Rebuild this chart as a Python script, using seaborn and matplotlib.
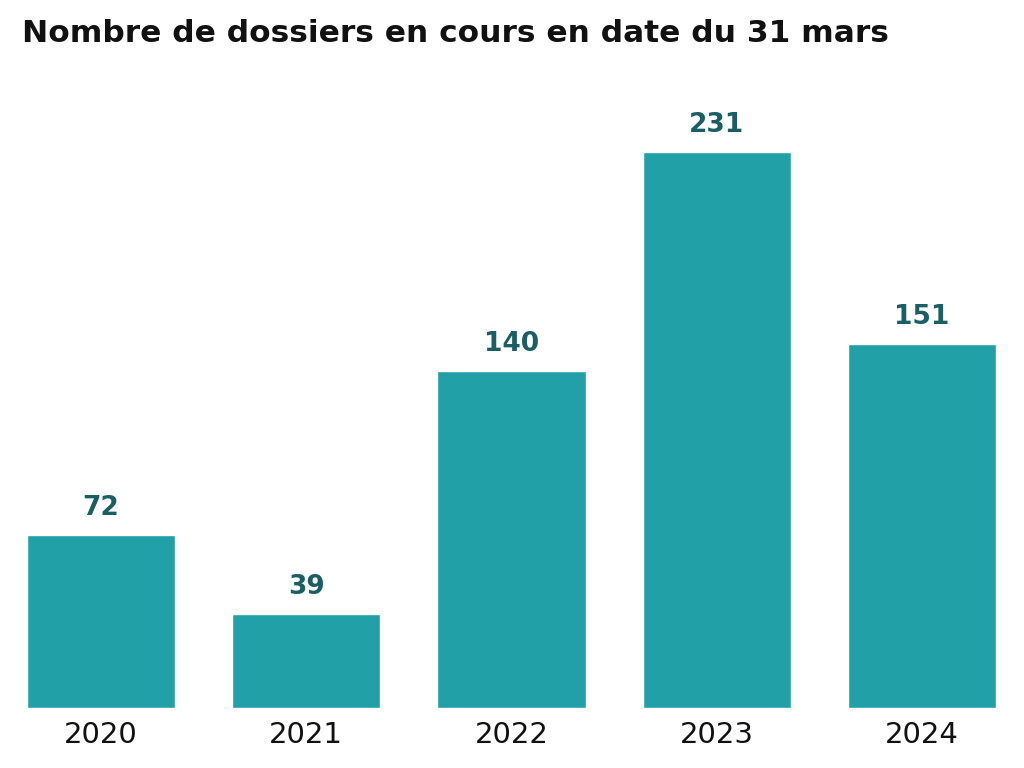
import pandas as pd
import matplotlib.pyplot as plt
import seaborn as sns

# Data
years = ["2020", "2021", "2022", "2023", "2024"]
dossiers = [72, 39, 140, 231, 151]

df = pd.DataFrame({"annee": years, "dossiers": dossiers})

sns.set_style("white")
plt.rcParams['font.family'] = ['DejaVu Sans']

fig = plt.figure(figsize=(10.24, 7.68), dpi=100)
ax = fig.add_axes([-0.0016, 0.078, 1.0023, 0.792])

sns.barplot(x="annee", y="dossiers", data=df, color="#21A0A8",
            saturation=1, width=0.722, ax=ax)

ax.set_ylim(0, 252.5)
ax.set_xlim(-0.5, 4.5)

# Value labels above bars
for i, v in enumerate(dossiers):
    ax.annotate(str(v), (i, v), xytext=(0, 10), textcoords="offset points",
                ha="center", va="bottom", fontsize=19, fontweight="bold",
                color="#1A5F64")

ax.set_xlabel("")
ax.set_ylabel("")
ax.set_yticks([])
ax.tick_params(axis="x", length=0, labelsize=21, pad=9, labelcolor="#111111")
sns.despine(ax=ax, left=True, bottom=True)

fig.text(0.021, 0.956, "Nombre de dossiers en cours en date du 31 mars",
         fontsize=22.5, fontweight="bold", ha="left", va="center",
         color="#111111")

plt.savefig("out.png", dpi=100)
